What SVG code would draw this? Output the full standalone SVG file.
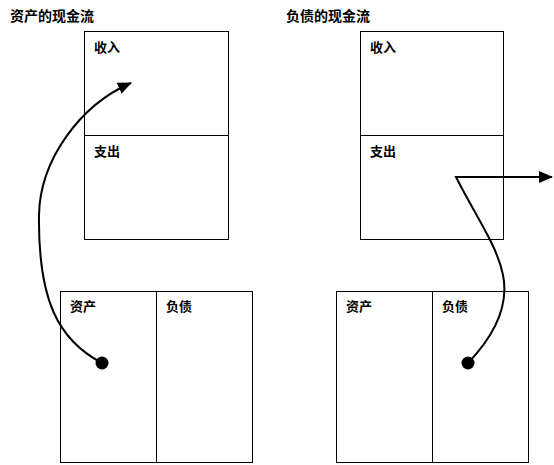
<svg xmlns="http://www.w3.org/2000/svg" width="554" height="465" viewBox="0 0 554 465">
<style>
.box{fill:#fff;stroke:#000;stroke-width:1}
.t{font-family:"Noto Sans CJK SC","Noto Sans",sans-serif;font-size:13px;font-weight:bold;fill:#000}
.title{font-family:"Noto Sans CJK SC","Noto Sans",sans-serif;font-size:14px;font-weight:bold;fill:#000}
.flow{fill:none;stroke:#000;stroke-width:2}
</style>
<defs>
<marker id="arr" viewBox="0 0 14 12" refX="13" refY="6" markerWidth="14" markerHeight="12" markerUnits="userSpaceOnUse" orient="auto">
<path d="M0,0 L14,6 L0,12 Z" fill="#000"/>
</marker>
</defs>
<rect width="554" height="465" fill="#fff"/>
<text class="title" x="10" y="21">资产的现金流</text>
<text class="title" x="286" y="21">负债的现金流</text>
<g id="asset-cashflow">
<rect class="box" x="84.5" y="31.5" width="144" height="208"/>
<line x1="84.5" y1="135.5" x2="228.5" y2="135.5" stroke="#000"/>
<text class="t" x="94" y="52">收入</text>
<text class="t" x="94" y="156">支出</text>
</g>
<g id="liability-cashflow">
<rect class="box" x="360.5" y="31.5" width="143" height="208"/>
<line x1="360.5" y1="135.5" x2="503.5" y2="135.5" stroke="#000"/>
<text class="t" x="370" y="52">收入</text>
<text class="t" x="370" y="156">支出</text>
</g>
<g id="balance-left">
<rect class="box" x="60.5" y="291.5" width="192" height="171"/>
<line x1="156.5" y1="291.5" x2="156.5" y2="462.5" stroke="#000"/>
<text class="t" x="70" y="311">资产</text>
<text class="t" x="166" y="311">负债</text>
</g>
<g id="balance-right">
<rect class="box" x="336.5" y="291.5" width="192" height="171"/>
<line x1="432.5" y1="291.5" x2="432.5" y2="462.5" stroke="#000"/>
<text class="t" x="346" y="311">资产</text>
<text class="t" x="442" y="311">负债</text>
</g>
<g id="connectors">
<path class="flow" d="M102,363 C 58,340 38,300 39,215 C 40,160 80,105 131,83" marker-end="url(#arr)"/>
<circle cx="102" cy="363" r="6.5" fill="#000"/>
<path class="flow" d="M468,363 C 490,340 510,310 503,275 C 497,245 475,215 456,177 L 552,177" marker-end="url(#arr)"/>
<circle cx="468" cy="363" r="6.5" fill="#000"/>
</g>
</svg>
